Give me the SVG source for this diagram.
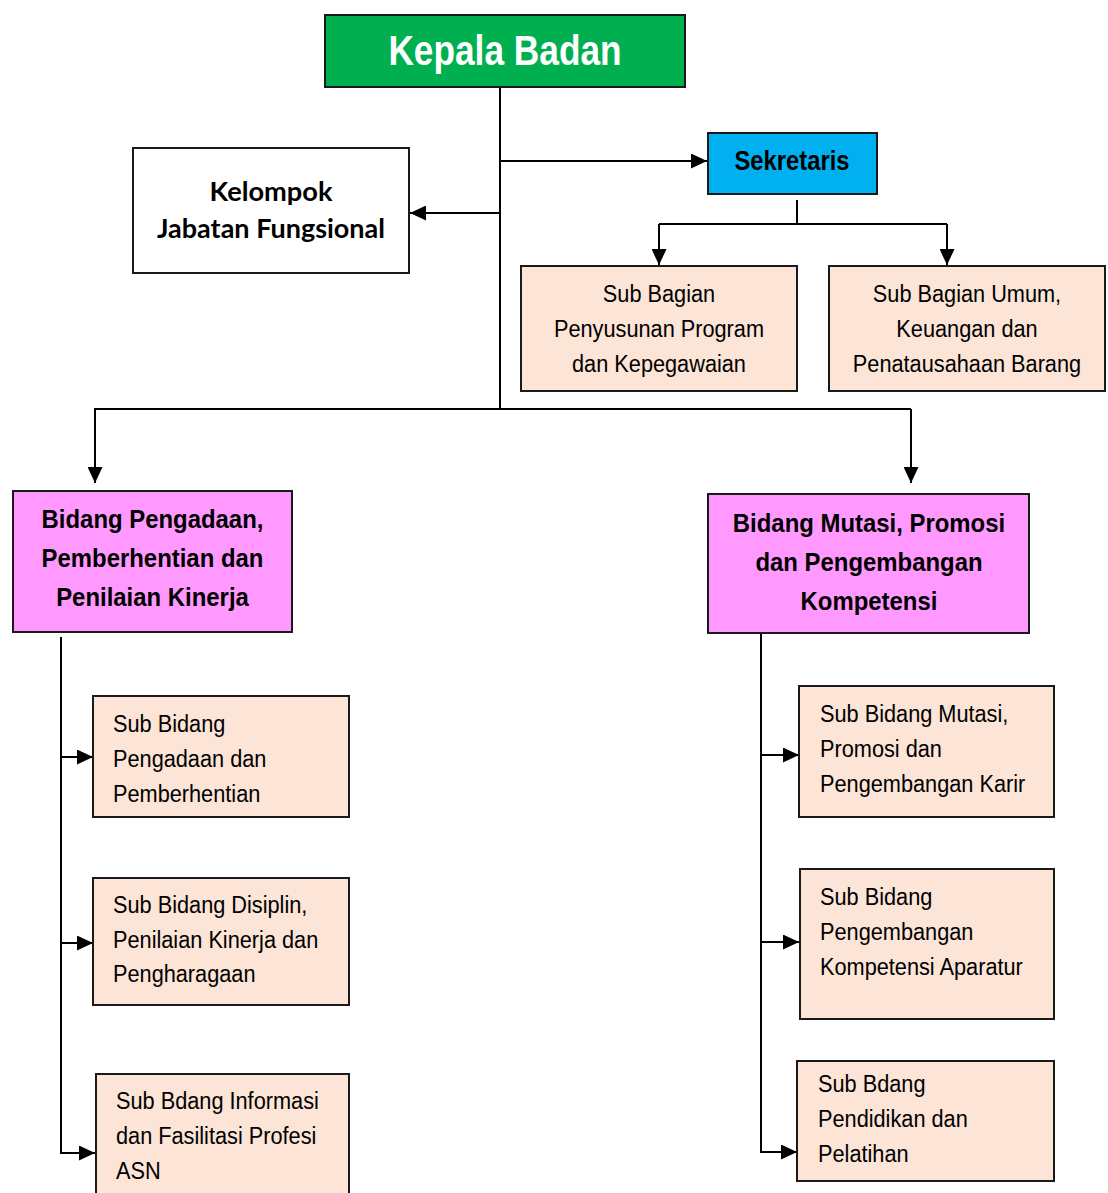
<svg xmlns="http://www.w3.org/2000/svg" width="1108" height="1193" viewBox="0 0 1108 1193">
<defs>
<style>
.box{stroke:#1a1a1a;stroke-width:2}
.green{fill:#00b050}
.cyan{fill:#00b0f0}
.pink{fill:#ff99ff}
.peach{fill:#fce4d6}
.white{fill:#ffffff}
.con{fill:none;stroke:#000;stroke-width:2}
.narrow{font-family:"Liberation Sans Narrow","Arial Narrow","Liberation Sans",Arial,sans-serif;fill:#000}
.bold{font-weight:bold}
.sub{font-size:23px}
.bid{font-size:26px;font-weight:bold}
.kjf{font-family:Lato,"Open Sans",sans-serif;font-weight:bold;font-size:26px;fill:#000}
</style>
<marker id="ah" viewBox="0 0 16 15" refX="16" refY="7.5" markerWidth="16" markerHeight="15" markerUnits="userSpaceOnUse" orient="auto">
<path d="M0,0 L16,7.5 L0,15 z" fill="#000"/>
</marker>
</defs>

<g id="connectors">
<path class="con" d="M500,87 V409"/>
<path class="con" d="M94,409 H911"/>
<path class="con" d="M95,409 V483" marker-end="url(#ah)"/>
<path class="con" d="M911,409 V483" marker-end="url(#ah)"/>
<path class="con" d="M500,161 H707" marker-end="url(#ah)"/>
<path class="con" d="M500,213 H410" marker-end="url(#ah)"/>
<path class="con" d="M797,200 V224"/>
<path class="con" d="M659,224 H947"/>
<path class="con" d="M659,224 V265" marker-end="url(#ah)"/>
<path class="con" d="M947,224 V265" marker-end="url(#ah)"/>
<path class="con" d="M61,637 V1153 H95" marker-end="url(#ah)"/>
<path class="con" d="M61,757 H93" marker-end="url(#ah)"/>
<path class="con" d="M61,943 H93" marker-end="url(#ah)"/>
<path class="con" d="M761,634 V1152 H797" marker-end="url(#ah)"/>
<path class="con" d="M761,755 H799" marker-end="url(#ah)"/>
<path class="con" d="M761,942 H799" marker-end="url(#ah)"/>
</g>

<g id="kepala-badan">
<rect class="box green" x="325" y="15" width="360" height="72"/>
<text class="narrow bold" x="505" y="65" font-size="43" text-anchor="middle" style="fill:#fff" transform="matrix(0.82,0,0,1,90.9,0)">Kepala Badan</text>
</g>

<g id="sekretaris">
<rect class="box cyan" x="708" y="133" width="169" height="61"/>
<text class="narrow bold" x="792" y="170" font-size="28" text-anchor="middle" transform="matrix(0.85,0,0,1,118.8,0)">Sekretaris</text>
</g>

<g id="kelompok-jabatan-fungsional">
<rect class="box white" x="133" y="148" width="276" height="125"/>
<text class="kjf" x="271" y="201" text-anchor="middle" textLength="123" lengthAdjust="spacingAndGlyphs">Kelompok</text>
<text class="kjf" x="271" y="238" text-anchor="middle" textLength="228" lengthAdjust="spacingAndGlyphs">Jabatan Fungsional</text>
</g>

<g id="sub-bagian-program">
<rect class="box peach" x="521" y="266" width="276" height="125"/>
<text class="narrow sub" text-anchor="middle" transform="matrix(0.945,0,0,1,36.245,0)"><tspan x="659" y="302">Sub Bagian</tspan><tspan x="659" y="337">Penyusunan Program</tspan><tspan x="659" y="372">dan Kepegawaian</tspan></text>
</g>

<g id="sub-bagian-umum">
<rect class="box peach" x="829" y="266" width="276" height="125"/>
<text class="narrow sub" text-anchor="middle" transform="matrix(0.945,0,0,1,53.185,0)"><tspan x="967" y="302">Sub Bagian Umum,</tspan><tspan x="967" y="337">Keuangan dan</tspan><tspan x="967" y="372">Penatausahaan Barang</tspan></text>
</g>

<g id="bidang-pengadaan">
<rect class="box pink" x="13" y="491" width="279" height="141"/>
<text class="narrow bid" text-anchor="middle" transform="matrix(0.92,0,0,1,12.2,0)"><tspan x="152.5" y="528">Bidang Pengadaan,</tspan><tspan x="152.5" y="567">Pemberhentian dan</tspan><tspan x="152.5" y="606">Penilaian Kinerja</tspan></text>
</g>

<g id="bidang-mutasi">
<rect class="box pink" x="708" y="494" width="321" height="139"/>
<text class="narrow bid" text-anchor="middle" transform="matrix(0.92,0,0,1,69.52,0)"><tspan x="869" y="532">Bidang Mutasi, Promosi</tspan><tspan x="869" y="571">dan Pengembangan</tspan><tspan x="869" y="610">Kompetensi</tspan></text>
</g>

<g id="sub-bidang-pengadaan">
<rect class="box peach" x="93" y="696" width="256" height="121"/>
<text class="narrow sub" transform="matrix(0.945,0,0,1,6.215,0)"><tspan x="113" y="732">Sub Bidang</tspan><tspan x="113" y="767">Pengadaan dan</tspan><tspan x="113" y="802">Pemberhentian</tspan></text>
</g>

<g id="sub-bidang-disiplin">
<rect class="box peach" x="93" y="878" width="256" height="127"/>
<text class="narrow sub" transform="matrix(0.945,0,0,1,6.215,0)"><tspan x="113" y="913">Sub Bidang Disiplin,</tspan><tspan x="113" y="948">Penilaian Kinerja dan</tspan><tspan x="113" y="982">Pengharagaan</tspan></text>
</g>

<g id="sub-bidang-informasi">
<rect class="box peach" x="96" y="1074" width="253" height="130"/>
<text class="narrow sub" transform="matrix(0.945,0,0,1,6.38,0)"><tspan x="116" y="1109">Sub Bdang Informasi</tspan><tspan x="116" y="1144">dan Fasilitasi Profesi</tspan><tspan x="116" y="1179">ASN</tspan></text>
</g>

<g id="sub-bidang-mutasi">
<rect class="box peach" x="799" y="686" width="255" height="131"/>
<text class="narrow sub" transform="matrix(0.945,0,0,1,45.1,0)"><tspan x="820" y="722">Sub Bidang Mutasi,</tspan><tspan x="820" y="757">Promosi dan</tspan><tspan x="820" y="792">Pengembangan Karir</tspan></text>
</g>

<g id="sub-bidang-kompetensi">
<rect class="box peach" x="800" y="869" width="254" height="150"/>
<text class="narrow sub" transform="matrix(0.945,0,0,1,45.1,0)"><tspan x="820" y="905">Sub Bidang</tspan><tspan x="820" y="940">Pengembangan</tspan><tspan x="820" y="975">Kompetensi Aparatur</tspan></text>
</g>

<g id="sub-bidang-pendidikan">
<rect class="box peach" x="797" y="1061" width="257" height="120"/>
<text class="narrow sub" transform="matrix(0.945,0,0,1,44.99,0)"><tspan x="818" y="1092">Sub Bdang</tspan><tspan x="818" y="1127">Pendidikan dan</tspan><tspan x="818" y="1162">Pelatihan</tspan></text>
</g>
</svg>
